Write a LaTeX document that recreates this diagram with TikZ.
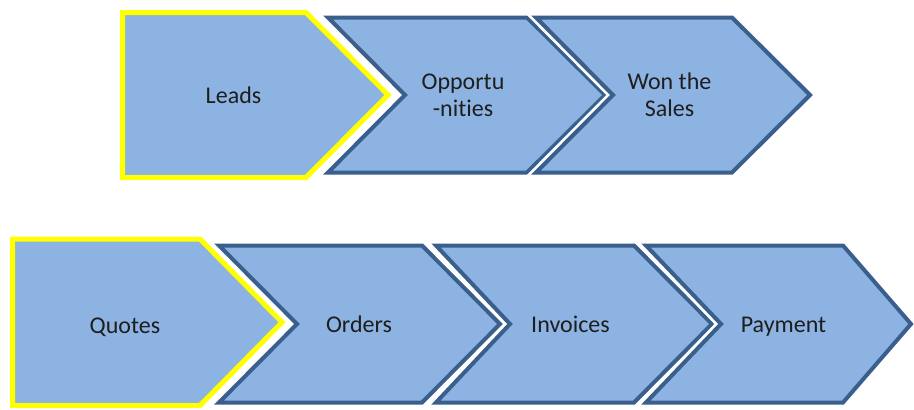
\documentclass[tikz,border=0pt]{standalone}
\usepackage{fontspec}
\setmainfont{Carlito}[Ligatures={NoCommon}]
\definecolor{chevfill}{HTML}{8DB3E2}
\definecolor{chevline}{HTML}{3A5F8D}
\definecolor{hilite}{HTML}{FFFF00}
\definecolor{labeltext}{HTML}{1E1E1E}
\tikzset{
  sepline/.style={draw=white, line width=9.5pt, line join=miter},
  plainchev/.style={fill=chevfill, draw=chevline, line width=4pt, line join=miter},
  markedchev/.style={fill=chevfill, draw=hilite, line width=5pt, line join=miter},
  steplabel/.style={text=labeltext, font=\fontsize{24}{27}\selectfont, inner sep=0pt, align=center},
}
% #1 style, #2 left x, #3 top y, #4 bottom y, #5 notch x, #6 shoulder x, #7 tip x
\newcommand\chevshape[7]{%
  \path[sepline] (#2,#3) -- (#6,#3) -- (#7,{(#3+#4)/2}) -- (#6,#4) -- (#2,#4) -- (#5,{(#3+#4)/2}) -- cycle;
  \path[#1] (#2,#3) -- (#6,#3) -- (#7,{(#3+#4)/2}) -- (#6,#4) -- (#2,#4) -- (#5,{(#3+#4)/2}) -- cycle;
}
\begin{document}
\begin{tikzpicture}[x=1pt, y=-1pt]
  \useasboundingbox (0,0) rectangle (914,410);
  % upper row
  \chevshape{markedchev}{122.5}{12.5}{177.5}{122.5}{306}{388}
  \chevshape{plainchev}{328}{17.5}{172.5}{405}{527}{605}
  \chevshape{plainchev}{536}{17.5}{172.5}{613}{732}{810}
  \node[steplabel, anchor=base] (leads) at (233.5,103) {Leads};
  \node[steplabel] (opps) at (463,95) {Opportu\\-nities};
  \node[steplabel] (won) at (669.5,95) {Won the\\Sales};
  % lower row
  \chevshape{markedchev}{12.5}{239}{405.5}{12.5}{200}{282}
  \chevshape{plainchev}{219}{245.5}{402.5}{297}{422}{500}
  \chevshape{plainchev}{436}{245.5}{402.5}{510}{634}{712}
  \chevshape{plainchev}{646}{245.5}{402.5}{721}{843}{911}
  \node[steplabel, anchor=base] (quotes) at (125,333) {Quotes};
  \node[steplabel, anchor=base] (orders) at (359,332) {Orders};
  \node[steplabel, anchor=base] (invoices) at (570.5,332) {Invoices};
  \node[steplabel, anchor=base] (payment) at (783.5,332) {Payment};
\end{tikzpicture}
\end{document}
